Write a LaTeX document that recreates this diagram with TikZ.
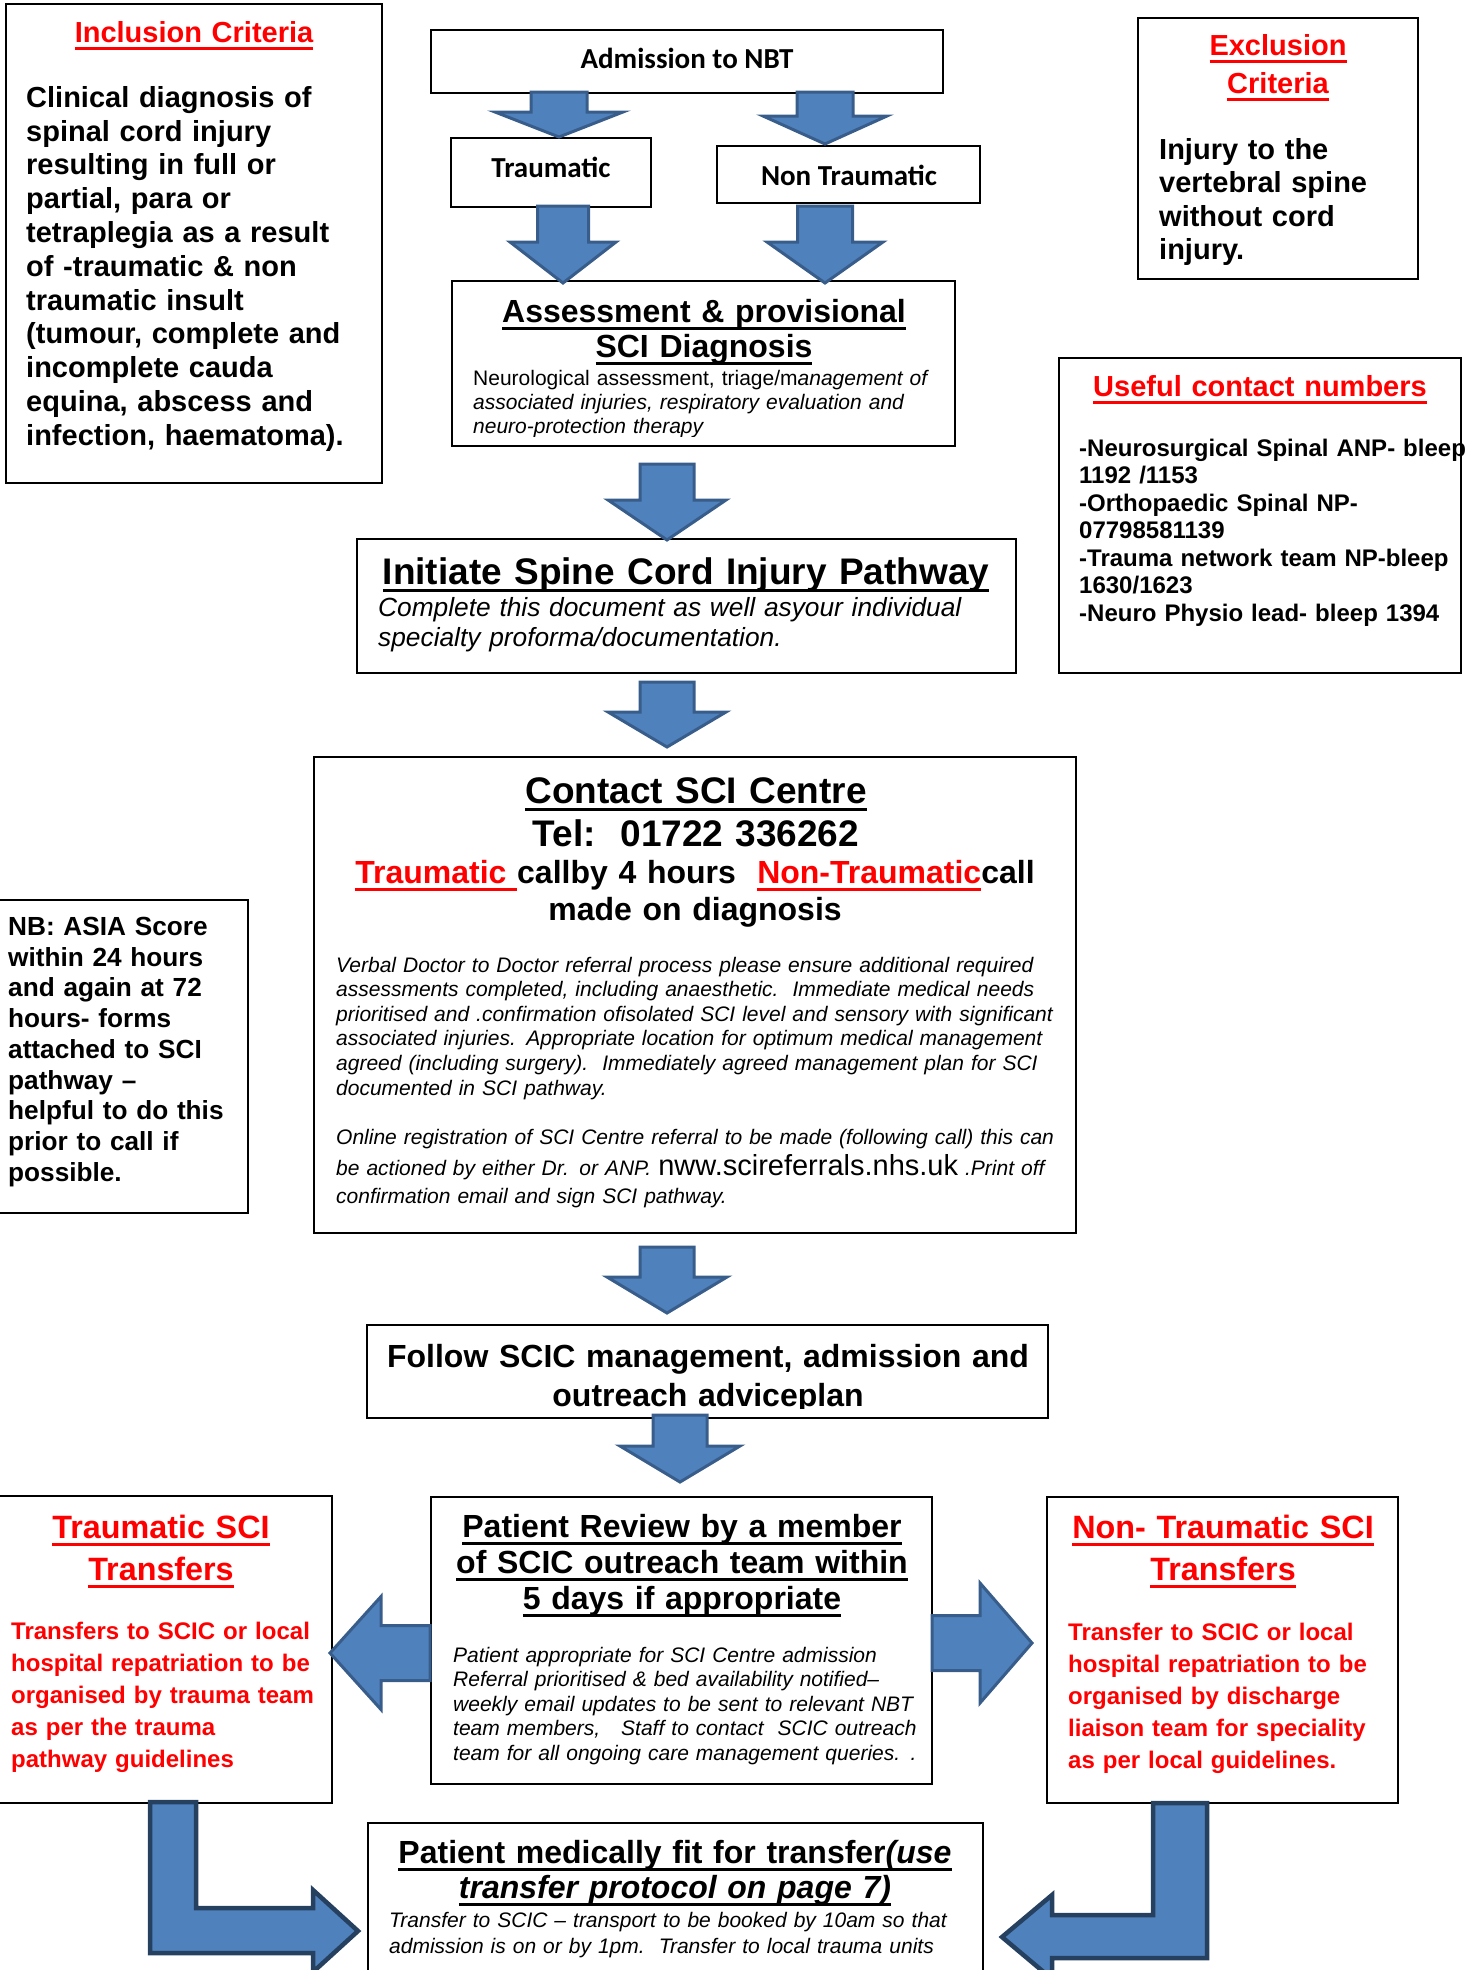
\documentclass[tikz,border=0pt]{standalone}
\usepackage{fontspec}
\setmainfont{Liberation Sans}
\newfontfamily\calfont{Carlito}
\usetikzlibrary{calc}
\definecolor{arrowblue}{RGB}{79,129,189}
\definecolor{arrowedge}{RGB}{56,93,138}
\definecolor{bentedge}{RGB}{38,64,96}
\newsavebox{\ulbox}
\newcommand{\uln}[1]{\leavevmode\sbox{\ulbox}{#1}\rlap{\rule[-7.5pt]{\wd\ulbox}{3pt}}\usebox{\ulbox}}
\newcommand{\sz}[2]{\fontsize{#1}{#2}\selectfont}
% block arrow: from, tip, shaft half width, head half width, head length
\newcommand{\blockarrow}[5]{%
  \draw[blk] let \p1=(#1), \p2=(#2),
      \n1={atan2(\y2-\y1,\x2-\x1)}, \n2={veclen(\x2-\x1,\y2-\y1)} in
    [shift={(\p1)}, rotate=\n1]
    (0,-#3) -- (\n2-#5,-#3) -- (\n2-#5,-#4) -- (\n2,0) -- (\n2-#5,#4)
    -- (\n2-#5,#3) -- (0,#3) -- cycle;}
\begin{document}
\begin{tikzpicture}[x=1pt, y=-1pt]
        \tikzstyle{box}=[draw, line width=1.8pt, inner sep=0pt]
        \tikzstyle{lbl}=[inner sep=0pt, anchor=base,
            font=\calfont\bfseries\sz{29}{34}]
        \tikzstyle{head}=[inner sep=0pt, anchor=base, align=center]
        \tikzstyle{body}=[inner sep=0pt, anchor=base west, align=left]
        \tikzstyle{blk}=[fill=arrowblue, draw=arrowedge,
            line width=3pt, line join=miter]
        \tikzstyle{bent}=[fill=arrowblue, draw=bentedge,
            line width=4.5pt, line join=miter]
        \useasboundingbox (0,0) rectangle (1472,1970);

        \node[box, minimum width=376pt, minimum height=479pt] (inc) at (194,243.5) {};
        \node[box, minimum width=512pt, minimum height=63pt] (adm) at (687,61.5) {};
        \node[box, minimum width=200pt, minimum height=69pt] (trm) at (551,172.5) {};
        \node[box, minimum width=263pt, minimum height=57pt] (ntr) at (848.5,174.5) {};
        \node[box, minimum width=503pt, minimum height=165pt] (asm) at (703.5,363.5) {};
        \node[box, minimum width=280pt, minimum height=261pt] (exc) at (1278,148.5) {};
        \node[box, minimum width=402pt, minimum height=315pt] (ucn) at (1260,515.5) {};
        \node[box, minimum width=659pt, minimum height=134pt] (ini) at (686.5,606) {};
        \node[box, minimum width=762pt, minimum height=476pt] (con) at (695,995) {};
        \node[box, minimum width=251pt, minimum height=313pt] (nbx) at (122.5,1056.5) {};
        \node[box, minimum width=681pt, minimum height=93pt] (fol) at (707.5,1371.5) {};
        \node[box, minimum width=501pt, minimum height=287pt] (rev) at (681.5,1640.5) {};
        \node[box, minimum width=335pt, minimum height=307pt] (trs) at (164.5,1649.5) {};
        \node[box, minimum width=351pt, minimum height=306pt] (nts) at (1222.5,1650) {};
        \node[box, minimum width=615pt, minimum height=157pt] (fit) at (675.5,1901.5) {};

        \node[head, text=red, text width=360pt, font=\bfseries\sz{29}{34}] (inchead) at (194,42.7)
            {\uln{Inclusion Criteria}};
        \node[body, text width=360pt, font=\bfseries\sz{29}{33.8}] (inctext) at (26,107.3)
            {Clinical diagnosis of\\spinal cord injury\\resulting in full or\\partial, para or\\
             tetraplegia as a result\\of -traumatic \& non\\traumatic insult\\
             (tumour, complete and\\incomplete cauda\\equina, abscess and\\
             infection, haematoma).};

        \node[lbl] (admlbl) at (687,68) {Admission to NBT};
        \node[lbl] (trmlbl) at (551,177) {Traumatic};
        \node[lbl] (ntrlbl) at (849,185) {Non Traumatic};

        \node[head, text width=495pt, font=\bfseries\sz{32}{35.5}] (asmhead) at (704,322)
            {\uln{Assessment \& provisional}\\\uln{SCI Diagnosis}};
        \begin{scope}
            \clip (452,281) rectangle (955,436);
            \node[body, text width=480pt, font=\sz{21}{24}] (asmtext) at (473,385)
                {Neurological assessment, triage/m\textit{anagement of}\\
                 \textit{associated injuries, respiratory evaluation and}\\
                 \textit{neuro-protection therapy}};
        \end{scope}

        \node[head, text=red, text width=270pt, font=\bfseries\sz{29}{38}] (exchead) at (1278,55)
            {\uln{Exclusion}\\\uln{Criteria}};
        \node[body, text width=250pt, font=\bfseries\sz{29}{33.5}] (exctext) at (1159,159)
            {Injury to the\\vertebral spine\\without cord\\injury.};

        \node[head, text=red, text width=390pt, font=\bfseries\sz{29}{34}] (ucnhead) at (1260,396)
            {\uln{Useful contact numbers}};
        \node[body, text width=400pt, font=\bfseries\sz{24}{27.5}] (ucntext) at (1079,456)
            {-Neurosurgical Spinal ANP- bleep\\1192 /1153\\-Orthopaedic Spinal NP-\\
             07798581139\\-Trauma network team NP-bleep\\1630/1623\\
             -Neuro Physio lead- bleep 1394};

        \node[head, text width=650pt, font=\bfseries\sz{37}{40}] (inihead) at (686,584)
            {\uln{Initiate Spine Cord Injury Pathway}};
        \node[body, text width=640pt, font=\itshape\sz{26.3}{30.5}] (initext) at (378,616)
            {Complete this document as well asyour individual\\
             specialty proforma/documentation.};

        \node[head, text width=740pt, font=\bfseries\sz{37}{43}] (conhead) at (696,803)
            {\uln{Contact SCI Centre}\\Tel:\ \ 01722 336262};
        \node[head, text width=740pt, font=\bfseries\sz{32}{37}] (concall) at (695,883)
            {\textcolor{red}{\uln{Traumatic\ }}callby 4 hours\ \ 
             \textcolor{red}{\uln{Non-Traumatic}}call\\made on diagnosis};
        \node[body, text width=740pt, font=\itshape\sz{21}{24.6}] (context) at (336,972)
            {Verbal Doctor to Doctor referral process please ensure additional required\\
             assessments completed, including anaesthetic.\ \ Immediate medical needs\\
             prioritised and .confirmation ofisolated SCI level and sensory with significant\\
             associated injuries. Appropriate location for optimum medical management\\
             agreed (including surgery).\ \ Immediately agreed management plan for SCI\\
             documented in SCI pathway.};
        \node[body, text width=740pt, font=\itshape\sz{21}{24.6}] (conreg) at (336,1144)
            {Online registration of SCI Centre referral to be made (following call) this can};
        \node[body, text width=740pt, font=\itshape\sz{21}{24.6}] (conweb) at (336,1175)
            {be actioned by either Dr. or ANP. {\upshape\sz{29}{30}nww.scireferrals.nhs.uk} .Print off};
        \node[body, text width=740pt, font=\itshape\sz{21}{24.6}] (consign) at (336,1203)
            {confirmation email and sign SCI pathway.};

        \node[body, text width=240pt, font=\bfseries\sz{26.2}{30.7}] (nbtext) at (8,935.5)
            {NB: ASIA Score\\within 24 hours\\and again at 72\\hours- forms\\
             attached to SCI\\pathway --\\helpful to do this\\prior to call if\\possible.};

        \begin{scope}
            \clip (367,1325) rectangle (1048,1408);
            \node[head, text width=670pt, font=\bfseries\sz{32}{39}] (foltext) at (708,1367)
                {Follow SCIC management, admission and\\outreach adviceplan};
        \end{scope}

        \node[head, text width=490pt, font=\bfseries\sz{32}{36}] (revhead) at (682,1537)
            {\uln{Patient Review by a member}\\\uln{of SCIC outreach team within}\\
             \uln{5 days if appropriate}};
        \node[body, text width=480pt, font=\itshape\sz{21}{24.5}] (revtext) at (453,1662)
            {Patient appropriate for SCI Centre admission\\
             Referral prioritised \& bed availability notified--\\
             weekly email updates to be sent to relevant NBT\\
             team members,\ \ \ Staff to contact\ \ SCIC outreach\\
             team for all ongoing care management queries. .};

        \node[head, text=red, text width=320pt, font=\bfseries\sz{32.3}{42}] (trshead) at (161,1538)
            {\uln{Traumatic SCI}\\\uln{Transfers}};
        \node[body, text=red, text width=320pt, font=\bfseries\sz{24}{32}] (trstext) at (11,1639)
            {Transfers to SCIC or local\\hospital repatriation to be\\
             organised by trauma team\\as per the trauma\\pathway guidelines};

        \node[head, text=red, text width=340pt, font=\bfseries\sz{32.3}{42}] (ntshead) at (1223,1538)
            {\uln{Non- Traumatic SCI}\\\uln{Transfers}};
        \node[body, text=red, text width=320pt, font=\bfseries\sz{24}{32}] (ntstext) at (1068,1640)
            {Transfer to SCIC or local\\hospital repatriation to be\\
             organised by discharge\\liaison team for speciality\\
             as per local guidelines.};

        \node[head, text width=600pt, font=\bfseries\sz{32}{35}] (fithead) at (675,1863)
            {\uln{Patient medically fit for transfer{\itshape(use}}\\
             {\itshape\uln{transfer protocol on page 7)}}};
        \node[body, text width=600pt, font=\itshape\sz{21}{26}] (fittext) at (389,1927)
            {Transfer to SCIC -- transport to be booked by 10am so that\\
             admission is on or by 1pm.\ \ Transfer to local trauma units};

        \coordinate (a1s) at (559,92);   \coordinate (a1e) at (559,137);
        \coordinate (a2s) at (825,92);   \coordinate (a2e) at (825,144);
        \coordinate (a3s) at (563,206);  \coordinate (a3e) at (563,283);
        \coordinate (a4s) at (825,206);  \coordinate (a4e) at (825,283);
        \coordinate (a5s) at (667,464);  \coordinate (a5e) at (667,540);
        \coordinate (a6s) at (667,682);  \coordinate (a6e) at (667,747);
        \coordinate (a7s) at (667,1247); \coordinate (a7e) at (667,1313);
        \coordinate (a8s) at (680,1415); \coordinate (a8e) at (680,1482);
        \coordinate (a9s) at (430,1653); \coordinate (a9e) at (330,1653);
        \coordinate (a10s) at (932,1643); \coordinate (a10e) at (1032,1643);

        \blockarrow{a1s}{a1e}{28}{64}{25}
        \blockarrow{a2s}{a2e}{28}{62}{28}
        \blockarrow{a3s}{a3e}{25.5}{53}{41}
        \blockarrow{a4s}{a4e}{27.5}{58}{41}
        \blockarrow{a5s}{a5e}{27}{59}{40}
        \blockarrow{a6s}{a6e}{27}{59}{35}
        \blockarrow{a7s}{a7e}{27}{60}{36}
        \blockarrow{a8s}{a8e}{27}{60}{36}
        \blockarrow{a9s}{a9e}{27.5}{56.5}{51}
        \blockarrow{a10s}{a10e}{27.5}{60}{52}

        \draw[bent] (150,1802) -- (150,1953) -- (313,1953) -- (313,1972) -- (358,1931)
            -- (313,1890) -- (313,1908) -- (196,1908) -- (196,1802) -- cycle;
        \draw[bent] (1207,1803) -- (1207,1958) -- (1052,1958) -- (1052,1979) -- (1002,1937)
            -- (1052,1895) -- (1052,1915) -- (1153,1915) -- (1153,1803) -- cycle;

    \end{tikzpicture}
\end{document}
